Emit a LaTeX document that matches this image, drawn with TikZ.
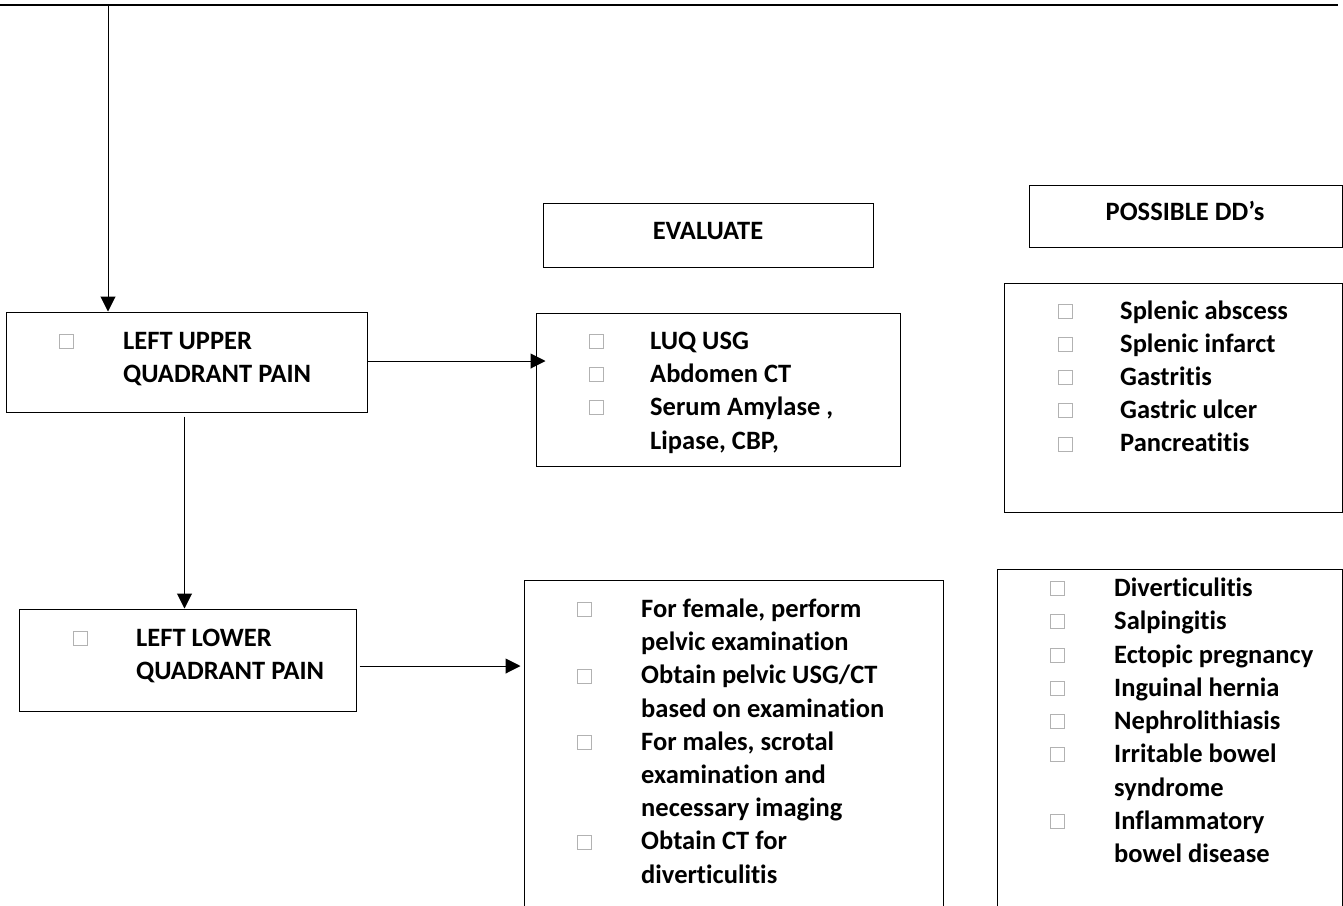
\documentclass[tikz,border=0pt]{standalone}
\usepackage{fontspec}
\setmainfont{Carlito}[Ligatures={NoCommon,NoContextual}]
\usetikzlibrary{arrows.meta}
\newcommand\bitem[5]{% name, bullet x, text x, baseline, text
  \draw[bul] (#2,#4-15) rectangle ++(14,14);
  \node[txt] (#1) at (#3,#4) {#5};}
\newcommand\citem[4]{% name, text x, baseline, text
  \node[txt] (#1) at (#2,#3) {#4};}
\begin{document}
\begin{tikzpicture}[x=1pt,y=-1pt,
  box/.style={draw=black,line width=1pt,rectangle,inner sep=0pt},
  txt/.style={anchor=base west,inner sep=0pt,font=\fontsize{26.5}{33}\selectfont\bfseries},
  ctxt/.style={anchor=base,inner sep=0pt,font=\fontsize{26.5}{33}\selectfont\bfseries},
  bul/.style={draw=gray!60,line width=0.8pt},
  arr/.style={line width=1pt,-{Triangle[length=15pt,width=15pt]}}]
\useasboundingbox (0,0) rectangle (1343,905);
\clip (0,0) rectangle (1343,905);
% rule
\draw[line width=2.5pt] (0,5) -- (1338,5);
% boxes
\node[box,minimum width=361pt,minimum height=100pt] (luq) at (186.5,362) {};
\node[box,minimum width=337pt,minimum height=102pt] (llq) at (187.5,660) {};
\node[box,minimum width=330pt,minimum height=64pt] (evalh) at (708,235) {};
\node[box,minimum width=364pt,minimum height=153pt] (evall) at (718,389.5) {};
\node[box,minimum width=313pt,minimum height=62pt] (ddh) at (1185.5,216) {};
\node[box,minimum width=338pt,minimum height=229pt] (ddl) at (1173,397.5) {};
\node[box,minimum width=419pt,minimum height=330pt] (evall2) at (733.5,745) {};
\node[box,minimum width=345pt,minimum height=341pt] (ddl2) at (1169.5,739.5) {};
% headings
\node[ctxt] (evt) at (708,239) {EVALUATE};
\node[ctxt] (ddt) at (1185,220) {POSSIBLE DD’s};
% LUQ / LLQ texts
\bitem{luq1}{59}{123}{349}{LEFT UPPER}
\citem{luq2}{123}{382}{QUADRANT PAIN}
\bitem{llq1}{73}{136}{646}{LEFT LOWER}
\citem{llq2}{136}{679}{QUADRANT PAIN}
% evaluate LUQ
\bitem{e1}{589}{650}{349}{LUQ USG}
\bitem{e2}{589}{650}{382.3}{Abdomen CT}
\bitem{e3}{589}{650}{415.6}{Serum Amylase ,}
\citem{e4}{650}{449}{Lipase, CBP,}
% DD LUQ
\bitem{d1}{1058}{1120}{319.5}{Splenic abscess}
\bitem{d2}{1058}{1120}{352.6}{Splenic infarct}
\bitem{d3}{1058}{1120}{385.7}{Gastritis}
\bitem{d4}{1058}{1120}{418.8}{Gastric ulcer}
\bitem{d5}{1058}{1120}{451.9}{Pancreatitis}
% evaluate LLQ
\bitem{f1}{577}{641}{617.5}{For female, perform}
\citem{f2}{641}{650.7}{pelvic examination}
\bitem{f3}{577}{641}{683.9}{Obtain pelvic USG/CT}
\citem{f4}{641}{717.1}{based on examination}
\bitem{f5}{577}{641}{750.3}{For males, scrotal}
\citem{f6}{641}{783.5}{examination and}
\citem{f7}{641}{816.7}{necessary imaging}
\bitem{f8}{577}{641}{849.9}{Obtain CT for}
\citem{f9}{641}{883.1}{diverticulitis}
% DD LLQ
\bitem{g1}{1050}{1114}{596.5}{Diverticulitis}
\bitem{g2}{1050}{1114}{629.75}{Salpingitis}
\bitem{g3}{1050}{1114}{663}{Ectopic pregnancy}
\bitem{g4}{1050}{1114}{696.25}{Inguinal hernia}
\bitem{g5}{1050}{1114}{729.5}{Nephrolithiasis}
\bitem{g6}{1050}{1114}{762.75}{Irritable bowel}
\citem{g7}{1114}{796}{syndrome}
\bitem{g8}{1050}{1114}{829.25}{Inflammatory}
\citem{g9}{1114}{862.5}{bowel disease}
% connectors
\coordinate (top) at (108,6);
\draw[arr] (top) -- (top |- luq.north);
\draw[arr] ([yshift=1pt]luq.east) -- ([xshift=10pt,yshift=1pt]evall.west |- luq.east);
\draw[arr] ([xshift=-2pt,yshift=-4pt]luq.south) -- ([xshift=-3pt]llq.north);
\draw[arr] ([xshift=3pt,yshift=-6pt]llq.east) -- ([xshift=-3pt,yshift=-6pt]evall2.west |- llq.east);
\end{tikzpicture}
\end{document}
